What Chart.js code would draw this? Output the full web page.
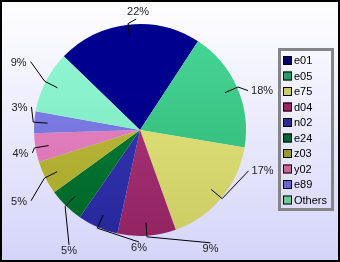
<!DOCTYPE html>
<html>
<head>
<meta charset="utf-8">
<script src="https://cdn.jsdelivr.net/npm/chart.js@4"></script>
<style>
html,body{margin:0;padding:0;background:#fff;}
#wrap{width:340px;height:262px;position:relative;}
</style>
</head>
<body>
<div id="wrap"><canvas id="c" width="340" height="262"></canvas></div>
<script>
// ---- data ----
const categories = ['e01','e05','e75','d04','n02','e24','z03','y02','e89','Others'];
const values = [22.0, 18.4, 16.9, 8.9, 6.2, 5.4, 5.1, 4.4, 3.3, 9.4];

// ---- styles ----
const legendColors = ['#000066','#289a6a','#cccc66','#992563','#2a2a99','#006633','#999928','#cc6699','#6666cc','#66cc99'];
const topColors    = ['#000090','#48d898','#ecec84','#b43c84','#3a3abc','#00843a','#c4c244','#ee8ccc','#8484ec','#94f8d4'];
const bottomColors = ['#000088','#2cb070','#cccc64','#922462','#28289c','#006628','#a8a628','#d46eae','#6c6cd4','#74e4bc'];
// label anchor: angle (deg clockwise from top) and radius factor
const labelAngles = [-2, 70, 110.6, 148, 180.5, 211.7, 237, 258, 282, 302];
const labelRadii  = [1.047, 1.085, 1.094, 1.255, 1.057, 1.274, 1.226, 1.038, 1.047, 1.217];

const total = values.reduce((a,b)=>a+b,0);

const bgPlugin = {
  id:'bg',
  beforeDraw(chart){
    const ctx = chart.ctx;
    const g = ctx.createLinearGradient(0,0,0,chart.height);
    g.addColorStop(0,'#ffffff');
    g.addColorStop(1,'#d4d4fa');
    ctx.save();
    ctx.fillStyle = g;
    ctx.fillRect(0,0,chart.width,chart.height);
    ctx.restore();
  },
  afterDraw(chart){
    const ctx = chart.ctx;
    ctx.save();
    // labels with leader lines
    const meta = chart.getDatasetMeta(0);
    ctx.strokeStyle = '#000';
    ctx.lineWidth = 1;
    ctx.fillStyle = '#222';
    ctx.font = '11px "Liberation Sans", Arial, sans-serif';
    meta.data.forEach((arc,i)=>{
      const p = arc.getProps(['x','y','startAngle','endAngle','outerRadius'], true);
      const mid = (p.startAngle + p.endAngle)/2;
      const R = p.outerRadius;
      const sx = p.x + 0.875*R*Math.cos(mid), sy = p.y + 0.875*R*Math.sin(mid);
      const ex = p.x + 1.01*R*Math.cos(mid), ey = p.y + 1.01*R*Math.sin(mid);
      const la = (labelAngles[i]-90)*Math.PI/180;
      const lx = p.x + labelRadii[i]*R*Math.cos(la), ly = p.y + labelRadii[i]*R*Math.sin(la);
      ctx.beginPath();
      ctx.moveTo(sx,sy); ctx.lineTo(ex,ey); ctx.lineTo(lx,ly);
      ctx.stroke();
      const txt = Math.round(values[i]/total*100) + '%';
      let a = ((labelAngles[i]%360)+360)%360;
      if (a > 330 || a < 30) {
        ctx.textAlign='center'; ctx.textBaseline='middle';
        ctx.fillText(txt, lx+2, ly-7);
      } else if (a >= 140 && a <= 220) {
        ctx.textAlign='center'; ctx.textBaseline='middle';
        ctx.fillText(txt, lx, ly+6);
      } else if (a < 180) {
        ctx.textAlign='left'; ctx.textBaseline='middle';
        ctx.fillText(txt, lx+3, ly);
      } else {
        ctx.textAlign='right'; ctx.textBaseline='middle';
        ctx.fillText(txt, lx-4, ly+1);
      }
    });
    // legend
    ctx.strokeStyle = '#858585';
    ctx.lineWidth = 3;
    ctx.strokeRect(279.5, 49.5, 53, 160);
    ctx.font = '11px "Liberation Sans", Arial, sans-serif';
    ctx.textAlign='left'; ctx.textBaseline='middle';
    categories.forEach((c,i)=>{
      const y = 56 + i*15.5;
      ctx.fillStyle = legendColors[i];
      ctx.fillRect(283,y,9,9);
      ctx.lineWidth = 1;
      ctx.strokeStyle = '#000';
      ctx.strokeRect(283.5,y+0.5,8,8);
      ctx.fillStyle = '#000';
      ctx.fillText(c, 294, y+5);
    });
    // frame
    ctx.strokeStyle = '#000';
    ctx.lineWidth = 2;
    ctx.strokeRect(1,1,chart.width-2,chart.height-2);
    ctx.restore();
  }
};

new Chart(document.getElementById('c'), {
  type:'pie',
  data:{
    labels: categories,
    datasets:[{
      data: values,
      borderWidth: 0,
      backgroundColor(ctx){
        const chart = ctx.chart;
        const area = chart.chartArea;
        if (!area) return topColors[ctx.dataIndex];
        const g = chart.ctx.createLinearGradient(0, area.top, 0, area.bottom);
        g.addColorStop(0, topColors[ctx.dataIndex]);
        g.addColorStop(1, bottomColors[ctx.dataIndex]);
        return g;
      }
    }]
  },
  options:{
    responsive:false,
    animation:false,
    rotation:-46,
    layout:{padding:{left:34,right:94,top:24,bottom:26}},
    plugins:{legend:{display:false},tooltip:{enabled:false}}
  },
  plugins:[bgPlugin]
});
</script>
</body>
</html>
